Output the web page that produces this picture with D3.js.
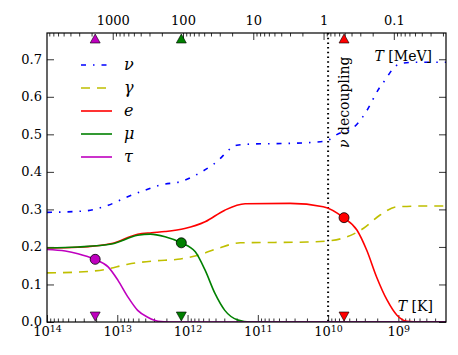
<!DOCTYPE html>
<html>
<head>
<meta charset="utf-8">
<script src="https://cdn.jsdelivr.net/npm/d3@7"></script>
<style>
body { margin: 0; background: #fff; }
</style>
</head>
<body>
<svg id="chart" width="458" height="355"></svg>
<script>
// curves: log10(T [K]) and energy fraction
const nuLogT = [14.00, 13.46, 13.13, 12.86, 12.61, 12.39, 12.08, 11.80, 11.61, 11.30, 11.11, 10.54, 10.19, 10.02, 9.87, 9.62, 9.43, 9.29, 9.18, 9.08, 8.98, 8.77, 8.32];
const nuVal  = [0.292, 0.296, 0.311, 0.333, 0.351, 0.365, 0.375, 0.400, 0.423, 0.471, 0.474, 0.476, 0.479, 0.483, 0.500, 0.521, 0.569, 0.618, 0.647, 0.674, 0.688, 0.692, 0.692];

const gammaLogT = [14.00, 13.56, 13.17, 12.85, 12.46, 12.14, 11.85, 11.57, 11.25, 10.30, 10.00, 9.73, 9.50, 9.26, 9.02, 8.65, 8.32];
const gammaVal  = [0.131, 0.133, 0.140, 0.154, 0.163, 0.167, 0.178, 0.196, 0.211, 0.213, 0.216, 0.227, 0.249, 0.285, 0.307, 0.309, 0.309];

const eLogT = [14.00, 13.56, 13.08, 12.71, 12.51, 12.32, 12.04, 11.75, 11.47, 11.18, 10.54, 10.07, 9.78, 9.59, 9.45, 9.31, 9.16, 9.02, 8.88, 8.69, 8.32];
const eVal  = [0.197, 0.199, 0.209, 0.234, 0.238, 0.241, 0.249, 0.267, 0.298, 0.315, 0.316, 0.307, 0.278, 0.245, 0.191, 0.120, 0.058, 0.018, 0.002, 0.0, 0.0];

const muLogT = [14.00, 13.56, 13.08, 12.71, 12.53, 12.32, 12.09, 11.89, 11.75, 11.61, 11.47, 11.28, 11.11, 8.32];
const muVal  = [0.197, 0.200, 0.208, 0.231, 0.234, 0.227, 0.211, 0.187, 0.138, 0.076, 0.031, 0.005, 0.0, 0.0];

const tauLogT = [14.00, 13.74, 13.56, 13.32, 13.13, 12.99, 12.85, 12.71, 12.56, 12.42, 12.25, 8.32];
const tauVal  = [0.193, 0.189, 0.182, 0.167, 0.147, 0.111, 0.067, 0.031, 0.012, 0.002, 0.0, 0.0];

const species = ["ν", "γ", "e", "μ", "τ"];
const colors = ["#0000ff", "#bfbf00", "#ff0000", "#008000", "#bf00bf"];

// particle masses (MeV) and where the markers sit on the curves
const massNames = ["e", "μ", "τ"];
const massesMeV = [0.511, 105.66, 1776.86];
const massMarkVal = [0.278, 0.211, 0.167];
const massColors = ["#ff0000", "#008000", "#bf00bf"];

const kTicks = [1e14, 1e13, 1e12, 1e11, 1e10, 1e9];
const mevTicks = [1000, 100, 10, 1, 0.1];
const yTicks = [0, 0.1, 0.2, 0.3, 0.4, 0.5, 0.6, 0.7];
const decouplingK = 1e10;
const K_PER_MEV = 1.1605e10;
const tMin = 2.1e8, tMax = 1e14;

const FONT = "DejaVu Serif";

const svg = d3.select("#chart");
const margin = {top: 33, right: 12, bottom: 33, left: 47};
const width = +svg.attr("width") - margin.left - margin.right;
const height = +svg.attr("height") - margin.top - margin.bottom;

const x = d3.scaleLog().domain([tMax, tMin]).range([0, width]);
const xMeV = d3.scaleLog().domain([tMax / K_PER_MEV, tMin / K_PER_MEV]).range([0, width]);
const y = d3.scaleLinear().domain([0, 0.77]).range([height, 0]);

const g = svg.append("g")
    .attr("transform", `translate(${margin.left},${margin.top})`)
    .attr("font-family", FONT);

g.append("clipPath").attr("id", "clip")
  .append("rect").attr("width", width).attr("height", height);

// minor log ticks
function minorTicks(lo, hi) {
    const out = [];
    for (let e = Math.floor(Math.log10(lo)); e <= Math.ceil(Math.log10(hi)); e++) {
        for (let m = 2; m <= 9; m++) {
            const v = m * Math.pow(10, e);
            if (v > lo && v < hi) out.push(v);
        }
    }
    return out;
}

function styleAxis(sel) {
    sel.attr("font-family", FONT).attr("font-size", 13);
    sel.select(".domain").remove();
    sel.selectAll(".tick line").attr("stroke", "#000").attr("stroke-width", 0.8);
}

// bottom axis: T [K]
const gx = g.append("g")
    .attr("transform", `translate(0,${height})`)
    .call(d3.axisBottom(x).tickValues(kTicks).tickSize(-7).tickPadding(5).tickFormat(() => "10"))
    .call(styleAxis);
gx.selectAll(".tick text").each(function(d) {
    d3.select(this).append("tspan")
        .attr("dy", "-0.42em")
        .attr("font-size", 9.5)
        .text(Math.round(Math.log10(d)));
});
g.append("g")
    .attr("transform", `translate(0,${height})`)
    .call(d3.axisBottom(x).tickValues(minorTicks(tMin, tMax)).tickSize(-3.5).tickFormat(""))
    .call(styleAxis);

// top axis: T [MeV]
g.append("g")
    .call(d3.axisTop(xMeV).tickValues(mevTicks).tickSize(-7).tickPadding(8).tickFormat(d => String(d)))
    .call(styleAxis);
g.append("g")
    .call(d3.axisTop(xMeV).tickValues(minorTicks(tMin / K_PER_MEV, tMax / K_PER_MEV)).tickSize(-3.5).tickFormat(""))
    .call(styleAxis);

// y axes
g.append("g")
    .call(d3.axisLeft(y).tickValues(yTicks).tickSize(-7).tickPadding(5).tickFormat(d3.format(".1f")))
    .call(styleAxis)
    .call(a => a.selectAll(".tick text").attr("dy", "0.3em"));
g.append("g")
    .attr("transform", `translate(${width},0)`)
    .call(d3.axisRight(y).tickValues(yTicks).tickSize(-7).tickFormat(""))
    .call(styleAxis);

// decoupling line
g.append("line")
    .attr("x1", x(decouplingK)).attr("x2", x(decouplingK))
    .attr("y1", 0).attr("y2", height)
    .attr("stroke", "#000")
    .attr("stroke-width", 2)
    .attr("stroke-dasharray", "1.5,3.2");

g.append("text")
    .attr("transform", `translate(${x(decouplingK) + 21},115) rotate(-90)`)
    .attr("font-size", 14)
    .call(t => {
        t.append("tspan").attr("font-style", "italic").text("ν");
        t.append("tspan").text(" decoupling");
    });

// curves
const series = [
    [nuLogT, nuVal],
    [gammaLogT, gammaVal],
    [eLogT, eVal],
    [muLogT, muVal],
    [tauLogT, tauVal]
];
const dashes = ["5,7,1.5,7", "9,7", null, null, null];

const line = d3.line()
    .x(d => x(Math.pow(10, d[0])))
    .y(d => y(d[1]))
    .curve(d3.curveMonotoneX);

series.forEach(([lt, v], i) => {
    g.append("path")
        .datum(lt.map((t, j) => [t, v[j]]))
        .attr("clip-path", "url(#clip)")
        .attr("fill", "none")
        .attr("stroke", colors[i])
        .attr("stroke-width", 1.6)
        .attr("stroke-dasharray", dashes[i])
        .attr("d", line);
});

// mass markers
massesMeV.forEach((m, i) => {
    const px = x(m * K_PER_MEV);
    g.append("circle")
        .attr("cx", px).attr("cy", y(massMarkVal[i]))
        .attr("r", 5)
        .attr("fill", massColors[i])
        .attr("stroke", "#000").attr("stroke-width", 0.8);
    g.append("path")
        .attr("d", "M-5,4.5L5,4.5L0,-4.5Z")
        .attr("transform", `translate(${px},${y(0.77) + 5.5})`)
        .attr("fill", massColors[i])
        .attr("stroke", "#000").attr("stroke-width", 0.6);
    g.append("path")
        .attr("d", "M-5,-4.5L5,-4.5L0,4.5Z")
        .attr("transform", `translate(${px},${y(0) - 5.5})`)
        .attr("fill", massColors[i])
        .attr("stroke", "#000").attr("stroke-width", 0.6);
});

// frame
g.append("rect")
    .attr("width", width).attr("height", height)
    .attr("fill", "none").attr("stroke", "#000").attr("stroke-width", 1.2);

// axis unit labels
g.append("text")
    .attr("x", width - 14).attr("y", 28)
    .attr("text-anchor", "end").attr("font-size", 14)
    .call(t => {
        t.append("tspan").attr("font-style", "italic").text("T");
        t.append("tspan").text(" [MeV]");
    });
g.append("text")
    .attr("x", width - 13).attr("y", height - 11)
    .attr("text-anchor", "end").attr("font-size", 14)
    .call(t => {
        t.append("tspan").attr("font-style", "italic").text("T");
        t.append("tspan").text(" [K]");
    });

// legend
const legend = g.append("g")
    .selectAll("g")
    .data(species)
    .join("g")
    .attr("transform", (d, i) => `translate(34,${32 + i * 23})`);

legend.append("line")
    .attr("x1", 0).attr("x2", 31)
    .attr("stroke", (d, i) => colors[i])
    .attr("stroke-width", 1.6)
    .attr("stroke-dasharray", (d, i) => dashes[i]);

legend.append("text")
    .attr("x", 43)
    .attr("y", 5)
    .attr("font-size", 16)
    .attr("font-style", "italic")
    .text(d => d);
</script>
</body>
</html>
